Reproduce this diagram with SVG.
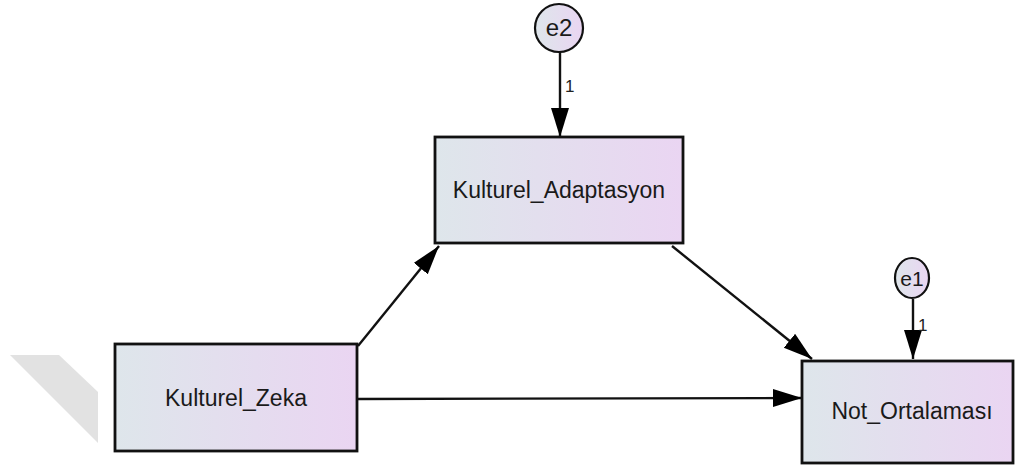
<svg xmlns="http://www.w3.org/2000/svg" width="1015" height="468" viewBox="0 0 1015 468">
<style>
.box{stroke:#111;stroke-width:2.8;fill:url(#g)}
.err{stroke:#111;stroke-width:2.2;fill:url(#g)}
.lbl{font-family:"Liberation Sans",Arial,sans-serif;font-size:23px;fill:#1a1a1a;text-anchor:middle}
.elbl{font-family:"Liberation Sans",Arial,sans-serif;font-size:24px;fill:#1a1a1a;text-anchor:middle}
.w{font-family:"Liberation Sans",Arial,sans-serif;font-size:17px;fill:#222}
.c{stroke:#111;stroke-width:2.4;fill:none;marker-end:url(#ah)}
</style>
<defs>
<linearGradient id="g" x1="0" y1="0" x2="1" y2="0">
<stop offset="0" stop-color="#dee6eb"/>
<stop offset="1" stop-color="#ead5f2"/>
</linearGradient>
<marker id="ah" markerUnits="userSpaceOnUse" markerWidth="32" markerHeight="20" refX="29" refY="9" orient="auto">
<path d="M0,0 L29,9 L0,18 Z" fill="#000"/>
</marker>
</defs>
<polygon points="10,355 59,355 98,392 98,443" fill="#e2e2e2"/>
<g id="connectors">
<line class="c" x1="358" y1="346" x2="439" y2="246"/>
<line class="c" x1="672" y1="246" x2="812" y2="359"/>
<line class="c" x1="358" y1="399" x2="802" y2="398"/>
<line class="c" x1="560" y1="52" x2="560" y2="137"/>
<line class="c" x1="913" y1="299" x2="913" y2="359"/>
<text class="w" x="565" y="92">1</text>
<text class="w" x="918" y="331">1</text>
</g>
<g id="Kulturel_Zeka">
<rect class="box" x="115" y="344" width="242" height="107"/>
<text class="lbl" x="236" y="406">Kulturel_Zeka</text>
</g>
<g id="Kulturel_Adaptasyon">
<rect class="box" x="435" y="137" width="248" height="106"/>
<text class="lbl" x="559" y="198">Kulturel_Adaptasyon</text>
</g>
<g id="Not_Ortalamasi">
<rect class="box" x="802" y="361" width="211" height="102"/>
<text class="lbl" x="912" y="419">Not_Ortalaması</text>
</g>
<g id="e2">
<circle class="err" cx="559" cy="28" r="24"/>
<text class="elbl" x="559" y="36">e2</text>
</g>
<g id="e1">
<ellipse class="err" cx="912" cy="278" rx="17" ry="20"/>
<text class="elbl" x="912" y="286" style="font-size:21px">e1</text>
</g>
</svg>
